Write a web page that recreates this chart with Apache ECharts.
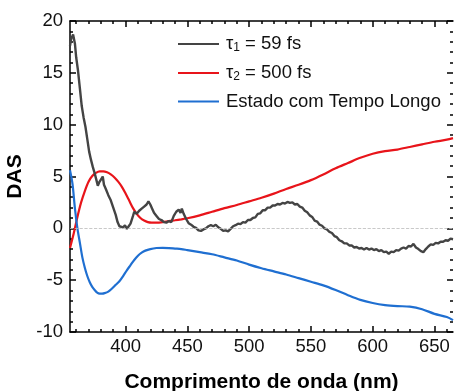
<!DOCTYPE html>
<html>
<head>
<meta charset="utf-8">
<script src="https://cdn.jsdelivr.net/npm/echarts@6/dist/echarts.min.js"></script>
<style>
  html, body { margin: 0; padding: 0; background: #fff; }
  #main { width: 455px; height: 391px; }
</style>
</head>
<body>
<div id="main"></div>
<script>
// tau1 = 59 fs (gray, noisy)
const tau1Nm = [355, 356, 357.5, 359, 360, 361.5, 363, 364.5, 366, 367.5, 369, 370.5, 372, 373.5, 375, 376.5, 377.5, 378.5, 379.5, 380.5, 381.5, 382.5, 384, 386, 388, 390, 392, 393.5, 395, 396.5, 398, 399.5, 401, 402.5, 404, 405, 406, 407, 409, 411, 413, 415, 417, 418.5, 420, 421.5, 423, 425, 427, 429, 431, 433, 435, 437, 439, 441, 443, 444.5, 445.5, 447, 449, 451, 453, 455, 457, 459, 461, 463, 465, 467, 469, 471, 473, 475, 477, 479, 481, 483, 485, 487, 489, 491, 493, 495, 497, 499, 501, 503, 505, 507, 509, 511, 513, 515, 517, 519, 521, 523, 525, 527, 529, 531, 533, 535, 537, 539, 541, 543, 545, 547, 549, 551, 553, 555, 557, 559, 561, 563, 565, 567, 569, 571, 573, 575, 577, 579, 581, 583, 585, 587, 589, 591, 593, 595, 597, 599, 601, 603, 605, 607, 609, 611, 613, 615, 617, 619, 621, 623, 625, 627, 629, 631, 633, 635, 637, 639, 641, 643, 645, 647, 649, 651, 653, 655, 657, 659, 661, 663, 665];
const tau1Das = [17.6, 18.3, 18.7, 17.8, 16.5, 15.2, 13.5, 11.8, 10.7, 9.8, 8.6, 7.4, 6.6, 5.9, 5.3, 4.6, 4.1, 4.4, 4.3, 4.8, 5.0, 4.2, 3.8, 3.2, 2.7, 2.0, 1.3, 0.6, 0.2, 0.35, 0.1, 0.3, -0.05, 0.2, 0.45, 0.3, 1.2, 1.6, 1.4, 1.7, 1.9, 2.1, 2.3, 2.6, 2.3, 1.9, 1.5, 1.2, 0.9, 0.8, 0.6, 0.55, 0.7, 0.6, 1.2, 1.6, 1.8, 1.5, 1.9, 1.4, 0.9, 0.5, 0.35, 0.15, 0.05, -0.2, -0.25, -0.1, 0.0, 0.2, 0.3, 0.2, 0.35, 0.1, -0.05, -0.25, -0.2, -0.3, -0.05, 0.2, 0.3, 0.45, 0.4, 0.6, 0.55, 0.8, 0.8, 1.0, 1.05, 1.4, 1.45, 1.75, 1.75, 2.0, 2.0, 2.2, 2.2, 2.35, 2.3, 2.45, 2.4, 2.55, 2.45, 2.5, 2.3, 2.35, 2.1, 2.0, 1.7, 1.55, 1.25, 1.1, 0.75, 0.65, 0.35, 0.25, 0.0, -0.1, -0.35, -0.45, -0.75, -0.85, -1.15, -1.25, -1.45, -1.45, -1.65, -1.65, -1.85, -1.8, -1.95, -1.9, -2.05, -1.9, -2.05, -1.95, -2.1, -2.0, -2.2, -2.1, -2.3, -2.25, -2.45, -2.25, -2.3, -2.1, -2.15, -1.95, -1.85, -1.95, -1.7, -1.75, -1.5, -1.85, -2.0, -2.2, -2.3, -2.0, -1.75, -1.55, -1.6, -1.4, -1.45, -1.3, -1.3, -1.15, -1.2, -1.0, -1.05, -0.85, -0.8];

// tau2 = 500 fs (red)
const tau2Nm = [355, 358, 361, 364, 367, 370, 373, 376, 379, 382, 385, 388, 391, 394, 397, 400, 403, 406, 409, 412, 415, 418, 421, 425, 430, 435, 440, 445, 450, 460, 470, 480, 490, 500, 510, 520, 530, 540, 550, 560, 570, 580, 590, 600, 610, 620, 630, 640, 650, 660, 665];
const tau2Das = [-1.9, -0.5, 1.1, 2.5, 3.6, 4.5, 5.05, 5.35, 5.5, 5.5, 5.4, 5.2, 4.9, 4.5, 4.0, 3.35, 2.65, 1.95, 1.4, 1.0, 0.75, 0.6, 0.55, 0.55, 0.6, 0.7, 0.78, 0.87, 0.97, 1.25, 1.6, 1.95, 2.25, 2.6, 2.95, 3.35, 3.8, 4.2, 4.65, 5.2, 5.8, 6.3, 6.8, 7.2, 7.45, 7.6, 7.85, 8.1, 8.35, 8.55, 8.7];

// long-lived state (blue)
const longNm = [355, 357, 359, 361, 363, 365, 367, 369, 371, 373, 375, 377, 379, 381, 383, 386, 389, 392, 395, 398, 401, 404, 407, 410, 413, 416, 420, 425, 430, 435, 440, 445, 450, 460, 470, 480, 490, 500, 510, 520, 530, 540, 550, 560, 570, 580, 590, 600, 610, 620, 630, 640, 650, 660, 665];
const longDas = [5.6, 4.3, 1.9, 0.0, -1.4, -2.8, -3.8, -4.6, -5.2, -5.65, -5.95, -6.2, -6.3, -6.3, -6.25, -6.1, -5.8, -5.45, -5.1, -4.6, -4.05, -3.55, -3.05, -2.65, -2.35, -2.15, -2.0, -1.9, -1.88, -1.9, -1.95, -2.0, -2.1, -2.3, -2.5, -2.8, -3.1, -3.5, -3.85, -4.15, -4.45, -4.8, -5.15, -5.5, -5.95, -6.45, -6.9, -7.2, -7.4, -7.5, -7.55, -7.8, -8.25, -8.55, -8.85];

const xMajorTicks = [400, 450, 500, 550, 600, 650];
const xMinorTicks = [360, 370, 380, 390, 410, 420, 430, 440, 460, 470, 480, 490, 510, 520, 530, 540, 560, 570, 580, 590, 610, 620, 630, 640, 660];

const seriesNames = ['tau1', 'tau2', 'long'];
const legendLabels = {
  tau1: '{t|τ}{s|1}{t| = 59 fs}',
  tau2: '{t|τ}{s|2}{t| = 500 fs}',
  long: '{t|Estado com Tempo Longo}'
};

const zip = (xs, ys) => xs.map((x, i) => [x, ys[i]]);
const font = '"Liberation Sans", Arial, sans-serif';

const chart = echarts.init(document.getElementById('main'));

// helper to build an x axis (bottom/top, major/minor)
function xAx(pos, ticks, len, line, extra) {
  return Object.assign({
    type: 'value', min: 355, max: 665, position: pos,
    axisLine: { show: line, onZero: false, lineStyle: { color: '#000', width: 1.5 } },
    axisTick: { show: true, inside: true, length: len, customValues: ticks, lineStyle: { color: '#000', width: 1.5 } },
    axisLabel: { show: false },
    splitLine: { show: false }
  }, extra || {});
}

function yAx(pos, line, extra) {
  return Object.assign({
    type: 'value', min: -10, max: 20, interval: 5, position: pos,
    axisLine: { show: line, onZero: false, lineStyle: { color: '#000', width: 1.5 } },
    axisTick: { show: true, inside: true, length: 6, lineStyle: { color: '#000', width: 1.5 } },
    minorTick: { show: true, splitNumber: 5, length: 3, lineStyle: { color: '#000', width: 1.5 } },
    axisLabel: { show: false },
    splitLine: { show: false }
  }, extra || {});
}

const option = {
  animation: false,
  backgroundColor: '#fff',
  textStyle: { fontFamily: font },
  grid: { left: 70, right: 2, top: 21, bottom: 59, outerBoundsMode: 'none', containLabel: false },
  legend: {
    orient: 'vertical',
    left: 173,
    top: 29,
    itemWidth: 41,
    itemHeight: 2,
    itemGap: 9,
    icon: 'rect',
    data: seriesNames,
    formatter: name => legendLabels[name],
    textStyle: {
      color: '#111',
      padding: [0, 0, 0, 2],
      rich: {
        t: { fontSize: 18.5, fontFamily: font, color: '#111', lineHeight: 20 },
        s: { fontSize: 12, fontFamily: font, color: '#111', verticalAlign: 'bottom', padding: [8, 0, 0, 0], lineHeight: 12 }
      }
    }
  },
  xAxis: [
    xAx('bottom', xMajorTicks, 6, true, {
      name: 'Comprimento de onda (nm)',
      nameLocation: 'middle',
      nameGap: 40,
      nameTextStyle: { fontSize: 21, fontWeight: 'bold', color: '#000', fontFamily: font },
      axisLabel: { show: true, fontSize: 18.5, color: '#111', margin: 5, fontFamily: font, customValues: xMajorTicks }
    }),
    xAx('top', xMajorTicks, 6, true),
    xAx('bottom', xMinorTicks, 3, false),
    xAx('top', xMinorTicks, 3, false)
  ],
  yAxis: [
    yAx('left', true, {
      name: 'DAS',
      nameLocation: 'middle',
      nameGap: 42,
      nameRotate: 90,
      nameTextStyle: { fontSize: 21, fontWeight: 'bold', color: '#000', fontFamily: font },
      axisLabel: { show: true, fontSize: 18.5, color: '#111', margin: 7, fontFamily: font }
    }),
    yAx('right', false)
  ],
  series: [
    {
      name: 'tau1', type: 'line', data: zip(tau1Nm, tau1Das),
      showSymbol: false, lineStyle: { color: '#444', width: 2.4 }, itemStyle: { color: '#444' },
      markLine: {
        silent: true, symbol: 'none', label: { show: false },
        lineStyle: { color: '#bbb', type: 'dashed', width: 0.8 },
        data: [{ yAxis: 0 }]
      },
      z: 3
    },
    {
      name: 'tau2', type: 'line', data: zip(tau2Nm, tau2Das), smooth: 0.3,
      showSymbol: false, lineStyle: { color: '#e8141a', width: 2.2 }, itemStyle: { color: '#e8141a' }, z: 2
    },
    {
      name: 'long', type: 'line', data: zip(longNm, longDas), smooth: 0.3,
      showSymbol: false, lineStyle: { color: '#1f6fd1', width: 2.2 }, itemStyle: { color: '#1f6fd1' }, z: 2
    }
  ]
};

chart.setOption(option);
</script>
</body>
</html>
